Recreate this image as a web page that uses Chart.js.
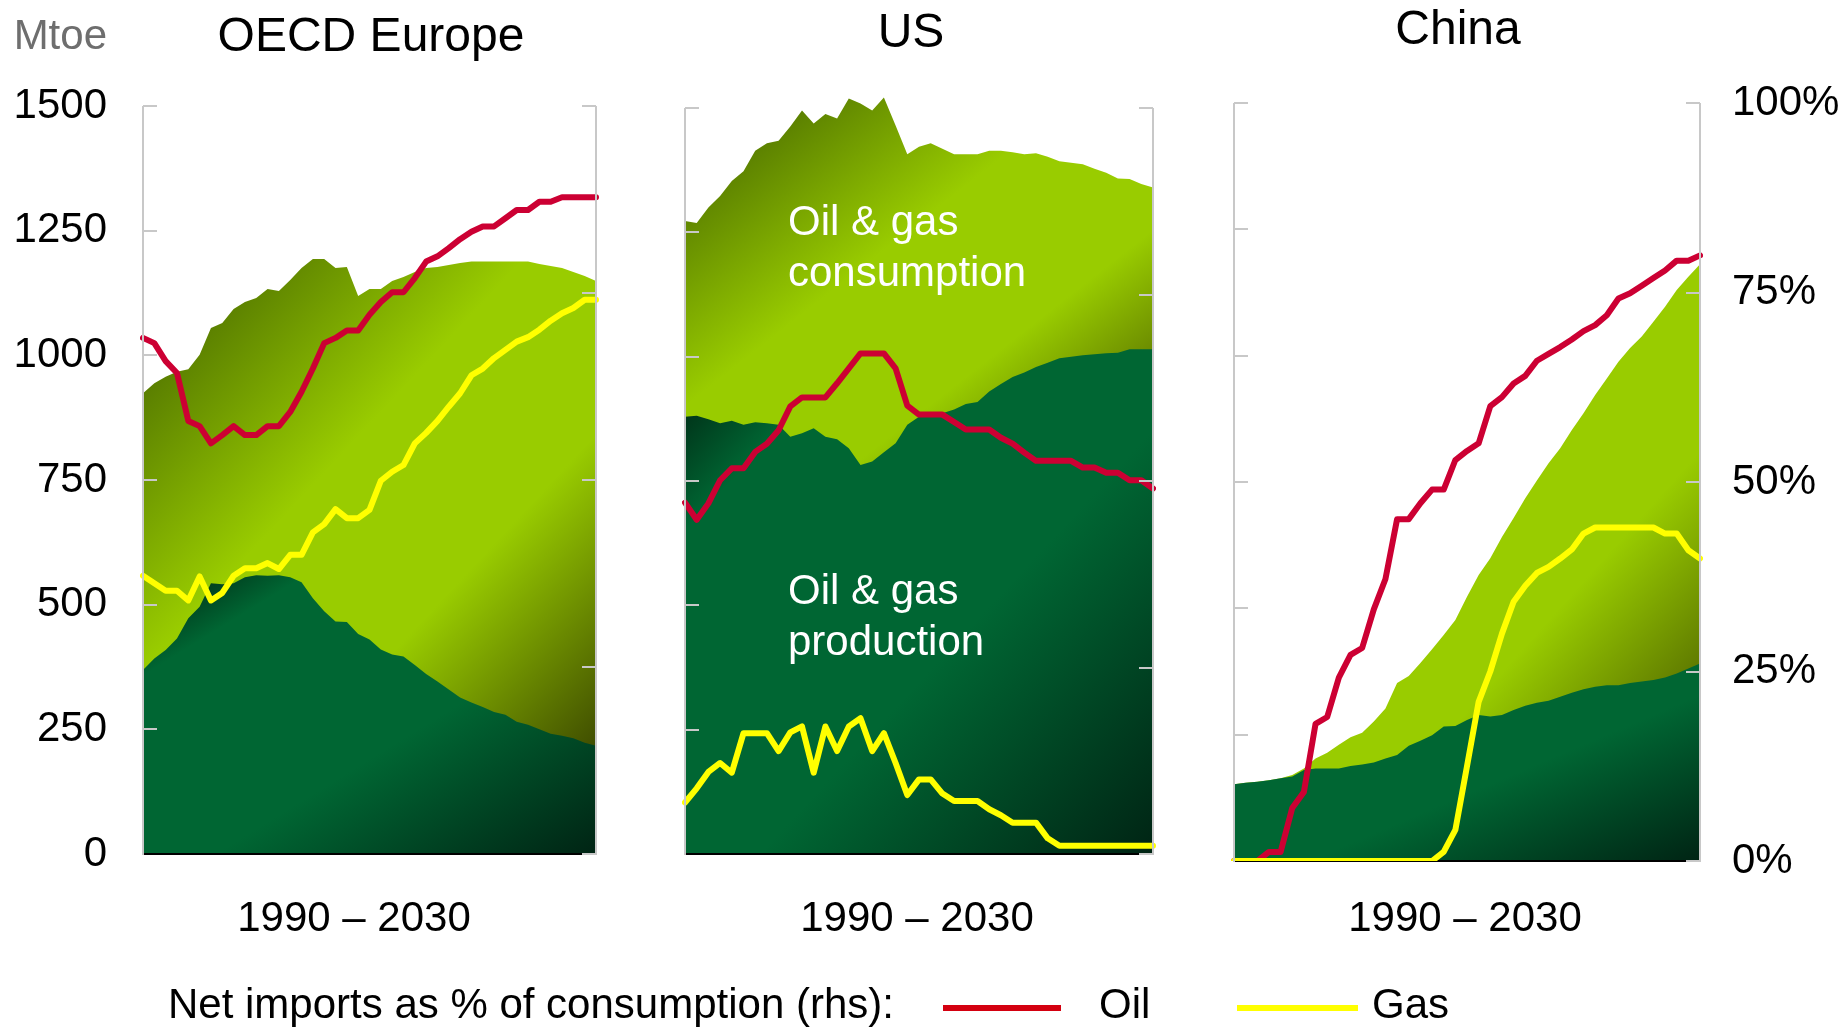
<!DOCTYPE html>
<html>
<head>
<meta charset="utf-8">
<script src="https://cdn.jsdelivr.net/npm/chart.js@4.4.1/dist/chart.umd.min.js"></script>
<style>
html,body{margin:0;padding:0;background:#fff;}
#wrap{position:relative;width:1843px;height:1029px;overflow:hidden;background:#fff;font-family:"Liberation Sans",Arial,Helvetica,sans-serif;}
#wrap canvas{position:absolute;left:0;top:0;}
.t{position:absolute;white-space:nowrap;line-height:1;color:#000;}
.sw{position:absolute;height:6px;}
</style>
</head>
<body>
<div id="wrap">
<canvas id="c1"></canvas>
<canvas id="c2"></canvas>
<canvas id="c3"></canvas>

<div class="t" style="font-size:42px;color:#6e6e6e;left:107px;top:14px;transform:translateX(-100%);">Mtoe</div>
<div class="t" style="font-size:48px;left:371px;top:11px;transform:translateX(-50%);">OECD Europe</div>
<div class="t" style="font-size:48px;left:911px;top:7px;transform:translateX(-50%);">US</div>
<div class="t" style="font-size:48px;left:1458px;top:4px;transform:translateX(-50%);">China</div>

<div class="t" style="font-size:42px;color:#fff;left:788px;top:200px;">Oil &amp; gas</div>
<div class="t" style="font-size:42px;color:#fff;left:788px;top:251px;">consumption</div>
<div class="t" style="font-size:42px;color:#fff;left:788px;top:569px;">Oil &amp; gas</div>
<div class="t" style="font-size:42px;color:#fff;left:788px;top:620px;">production</div>

<div class="t" style="font-size:42px;left:354px;top:896px;transform:translateX(-50%);">1990 – 2030</div>
<div class="t" style="font-size:42px;left:917px;top:896px;transform:translateX(-50%);">1990 – 2030</div>
<div class="t" style="font-size:42px;left:1465px;top:896px;transform:translateX(-50%);">1990 – 2030</div>

<div class="t" style="font-size:42px;left:168px;top:983px;">Net imports as % of consumption (rhs):</div>
<div class="sw" style="left:943px;top:1005px;width:118px;background:#d40010;"></div>
<div class="t" style="font-size:42px;left:1099px;top:983px;">Oil</div>
<div class="sw" style="left:1237px;top:1005px;width:121px;background:#ffff00;"></div>
<div class="t" style="font-size:42px;left:1372px;top:983px;">Gas</div>
</div>

<script>
// ---------- DATA ----------
const years = [];
for (let y = 1990; y <= 2030; y++) years.push(String(y));

const mtoeTicks = [0, 250, 500, 750, 1000, 1250, 1500];
const pctTicks = [0, 25, 50, 75, 100];

// OECD Europe
const euConsumption = [924, 944, 957, 967, 972, 1001, 1055, 1065, 1093, 1107, 1115, 1133, 1129, 1151, 1175, 1193, 1193, 1175, 1177, 1119, 1133, 1133, 1149, 1157, 1167, 1175, 1177, 1181, 1185, 1188, 1188, 1188, 1188, 1188, 1188, 1183, 1179, 1175, 1167, 1159, 1149];
const euProduction = [369, 392, 409, 432, 473, 496, 543, 541, 543, 555, 559, 558, 559, 555, 545, 513, 487, 466, 465, 441, 430, 410, 400, 396, 379, 361, 346, 330, 314, 304, 295, 285, 279, 265, 259, 250, 241, 237, 232, 223, 217];
const euOilImports = [69.0, 68.3, 65.9, 64.3, 57.9, 57.2, 54.9, 56.0, 57.2, 56.0, 56.0, 57.2, 57.2, 59.1, 61.8, 64.9, 68.3, 69.0, 70.0, 70.0, 72.1, 73.8, 75.1, 75.1, 77.0, 79.2, 79.9, 81.0, 82.2, 83.2, 83.9, 83.9, 85.0, 86.1, 86.1, 87.2, 87.2, 87.8, 87.8, 87.8, 87.8];
const euGasImports = [37.2, 36.2, 35.2, 35.2, 33.9, 37.1, 33.9, 34.9, 37.2, 38.2, 38.2, 38.9, 38.1, 40.0, 40.0, 43.0, 44.1, 46.1, 44.9, 44.9, 46.0, 49.9, 51.1, 52.0, 54.9, 56.3, 57.9, 59.8, 61.6, 64.0, 64.9, 66.3, 67.4, 68.5, 69.1, 70.1, 71.3, 72.3, 73.0, 74.1, 74.1];

// US
const usConsumption = [1273, 1269, 1300, 1323, 1353, 1373, 1414, 1429, 1434, 1463, 1495, 1469, 1488, 1479, 1519, 1509, 1495, 1521, 1465, 1407, 1422, 1429, 1418, 1407, 1407, 1407, 1414, 1414, 1411, 1407, 1409, 1402, 1393, 1390, 1387, 1378, 1370, 1358, 1357, 1347, 1340];
const usProduction = [879, 881, 874, 866, 871, 863, 868, 866, 863, 839, 846, 856, 839, 834, 816, 782, 789, 808, 826, 863, 879, 884, 886, 894, 905, 909, 930, 945, 959, 968, 979, 988, 997, 1000, 1003, 1005, 1007, 1008, 1015, 1015, 1015];
const usOilImports = [47.1, 44.8, 47.0, 50.1, 51.7, 51.7, 53.9, 55.0, 56.8, 60.0, 61.2, 61.2, 61.2, 63.1, 65.1, 67.1, 67.1, 67.1, 65.1, 60.1, 58.9, 58.9, 58.9, 57.9, 56.9, 56.9, 56.9, 55.8, 55.0, 53.8, 52.7, 52.7, 52.7, 52.7, 51.8, 51.8, 51.1, 51.1, 50.1, 50.1, 49.0];
const usGasImports = [6.9, 8.8, 11.0, 12.2, 10.9, 16.2, 16.2, 16.2, 13.8, 16.3, 17.1, 10.9, 17.1, 13.8, 17.1, 18.2, 13.8, 16.2, 12.2, 7.9, 10.0, 10.0, 8.1, 7.1, 7.1, 7.1, 6.0, 5.2, 4.2, 4.2, 4.2, 2.1, 1.1, 1.1, 1.1, 1.1, 1.1, 1.1, 1.1, 1.1, 1.1];

// China
const cnConsumption = [152, 155, 157, 160, 164, 170, 183, 203, 214, 230, 245, 254, 276, 302, 352, 366, 392, 419, 447, 477, 523, 566, 599, 641, 679, 718, 753, 787, 817, 853, 886, 922, 955, 988, 1015, 1038, 1067, 1097, 1130, 1156, 1181];
const cnProduction = [152, 155, 157, 160, 164, 167, 180, 183, 183, 183, 188, 191, 195, 203, 210, 228, 238, 249, 266, 267, 279, 289, 286, 289, 299, 307, 313, 317, 325, 333, 340, 345, 348, 348, 352, 355, 358, 363, 371, 381, 391];
const cnOilImports = [0, 0, 0, 1.2, 1.2, 7.0, 9.1, 18.1, 19.0, 24.2, 27.2, 28.1, 33.2, 37.2, 45.1, 45.1, 47.2, 49.0, 49.0, 52.9, 54.1, 55.1, 60.0, 61.2, 63.0, 64.0, 66.0, 66.9, 67.8, 68.8, 69.9, 70.7, 72.0, 74.2, 74.9, 75.9, 76.9, 77.9, 79.2, 79.2, 79.9];
const cnGasImports = [0, 0, 0, 0, 0, 0, 0, 0, 0, 0, 0, 0, 0, 0, 0, 0, 0, 0, 1.2, 4.1, 12.5, 21.0, 25.0, 30.0, 34.2, 36.3, 38.0, 38.8, 39.9, 41.1, 43.2, 44.0, 44.0, 44.0, 44.0, 44.0, 44.0, 43.2, 43.2, 41.0, 39.9];

// ---------- STYLE ----------
const W = 1843, H = 1029;
const FONT = '"Liberation Sans", Arial, Helvetica, sans-serif';
const CONS_STOPS = [[0, '#3c5a00'], [0.42, '#99cc00'], [0.68, '#99cc00'], [1, '#404e00']];
const PROD_STOPS = [[0, '#001a0c'], [0.18, '#006633'], [0.58, '#006633'], [1, '#002414']];
const OIL_COLOR = '#cc0033';
const GAS_COLOR = '#ffff00';
const AXIS_GRAY = '#c8c8c8';
const Y_MAX = 1530;             // a little head-room so peaks above 1500 are not clipped
const Y1_MAX = 100 * Y_MAX / 1500;

// diagonal (top-left -> bottom-right) gradient scaled to the band's bounding box
function bandGradient(chart, stops, topVal, bottomVal) {
  const a = chart.chartArea;
  if (!a) return stops[1][1];
  const ys = chart.scales.y;
  const top = ys.getPixelForValue(topVal), bottom = ys.getPixelForValue(bottomVal);
  const w = a.right - a.left, h = Math.max(bottom - top, 1);
  const k = 2 / (1 / (w * w) + 1 / (h * h));
  const g = chart.ctx.createLinearGradient(a.left, top, a.left + k / w, top + k / h);
  stops.forEach(s => g.addColorStop(s[0], s[1]));
  return g;
}

const axisMarks = {
  id: 'axisMarks',
  afterDatasetDraw(chart, args) {
    if (args.index !== 1) return;
    const ctx = chart.ctx, a = chart.chartArea;
    const y0 = chart.scales.y.getPixelForValue(0);
    ctx.save();
    ctx.strokeStyle = '#000';
    ctx.lineWidth = 2;
    ctx.beginPath();
    ctx.moveTo(a.left, y0);
    ctx.lineTo(a.right, y0);
    ctx.stroke();
    ctx.restore();
  },
  afterDraw(chart) {
    const ctx = chart.ctx, a = chart.chartArea;
    const sy = chart.scales.y, sy1 = chart.scales.y1;
    const yTop = sy.getPixelForValue(1500), yBot = sy.getPixelForValue(0);
    ctx.save();
    ctx.strokeStyle = AXIS_GRAY;
    ctx.lineWidth = 2;
    ctx.beginPath();
    ctx.moveTo(a.left, yTop); ctx.lineTo(a.left, yBot + 1);
    ctx.moveTo(a.right, yTop); ctx.lineTo(a.right, yBot + 1);
    sy.ticks.forEach(t => {
      if (t.value === 0) return;
      const p = Math.round(sy.getPixelForValue(t.value));
      ctx.moveTo(a.left, p); ctx.lineTo(a.left + 14, p);
    });
    sy1.ticks.forEach(t => {
      const p = Math.round(sy1.getPixelForValue(t.value));
      ctx.moveTo(a.right - 14, p); ctx.lineTo(a.right, p);
    });
    ctx.stroke();
    ctx.restore();
  }
};

function makeChart(id, geom, cons, prod, oil, gas, showLeft, showRight) {
  const cv = document.getElementById(id);
  cv.width = W; cv.height = H;
  const top = geom.b - (geom.b - geom.t) * Y_MAX / 1500;
  const leftW = showLeft ? geom.l : 0;
  const rightW = showRight ? W - geom.r : 0;
  const consTop = Math.max(...cons), consBottom = Math.min(...prod);
  const prodTop = Math.max(...prod);
  return new Chart(cv, {
    type: 'line',
    data: {
      labels: years,
      datasets: [
        { label: 'Consumption', data: cons, yAxisID: 'y', order: 3, fill: 'origin', borderWidth: 0, pointRadius: 0, tension: 0,
          backgroundColor: c => bandGradient(c.chart, CONS_STOPS, consTop, consBottom) },
        { label: 'Production', data: prod, yAxisID: 'y', order: 2, fill: 'origin', borderWidth: 0, pointRadius: 0, tension: 0,
          backgroundColor: c => bandGradient(c.chart, PROD_STOPS, prodTop, 0) },
        { label: 'Oil', data: oil, yAxisID: 'y1', order: 1, fill: false, borderColor: OIL_COLOR, borderWidth: 6, pointRadius: 0, tension: 0,
          borderJoinStyle: 'round', borderCapStyle: 'round' },
        { label: 'Gas', data: gas, yAxisID: 'y1', order: 0, fill: false, borderColor: GAS_COLOR, borderWidth: 6, pointRadius: 0, tension: 0,
          borderJoinStyle: 'round', borderCapStyle: 'round' }
      ]
    },
    options: {
      responsive: false,
      maintainAspectRatio: false,
      animation: false,
      devicePixelRatio: 1,
      events: [],
      layout: { padding: { left: geom.l - leftW, right: (W - geom.r) - rightW, top: top, bottom: H - geom.b }, autoPadding: false },
      plugins: { legend: { display: false }, tooltip: { enabled: false }, title: { display: false } },
      scales: {
        x: { type: 'category', display: false, offset: false },
        y: {
          position: 'left', min: 0, max: Y_MAX,
          afterBuildTicks: s => { s.ticks = mtoeTicks.map(v => ({ value: v })); },
          afterFit: s => { s.width = leftW; },
          grid: { display: false, drawTicks: false },
          border: { display: false },
          ticks: { display: showLeft, padding: 36, color: '#000', font: { family: FONT, size: 42 },
                   callback: v => String(v) }
        },
        y1: {
          position: 'right', min: 0, max: Y1_MAX,
          afterBuildTicks: s => { s.ticks = pctTicks.map(v => ({ value: v })); },
          afterFit: s => { s.width = rightW; },
          grid: { display: false, drawTicks: false },
          border: { display: false },
          ticks: { display: showRight, padding: 32, color: '#000', font: { family: FONT, size: 42 },
                   callback: v => v + '%' }
        }
      }
    },
    plugins: [axisMarks]
  });
}

makeChart('c1', { l: 143, r: 596, t: 106, b: 854 }, euConsumption, euProduction, euOilImports, euGasImports, true, false);
makeChart('c2', { l: 685, r: 1153, t: 108, b: 854 }, usConsumption, usProduction, usOilImports, usGasImports, false, false);
makeChart('c3', { l: 1234, r: 1700, t: 103, b: 861 }, cnConsumption, cnProduction, cnOilImports, cnGasImports, false, true);
</script>
</body>
</html>
